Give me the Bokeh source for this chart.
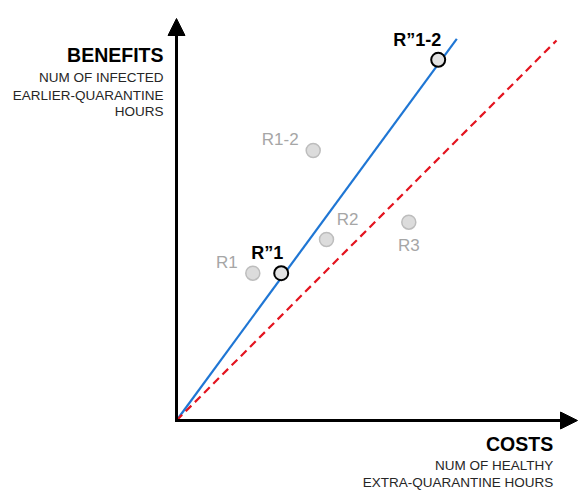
from bokeh.plotting import figure
from bokeh.models import Range1d, Arrow, NormalHead, Label, ColumnDataSource
from bokeh.core.properties import value
from bokeh.embed import file_html
from bokeh.resources import INLINE

# ---- data (costs = x, benefits = y; arbitrary units) ----
other_names = ["R1", "R1-2", "R2", "R3"]
other_costs = [7.63, 13.67, 15.0, 23.23]
other_benefits = [14.73, 27.0, 18.1, 19.83]

best_names = ["R\u201d1", "R\u201d1-2"]
best_costs = [10.47, 26.17]
best_benefits = [14.73, 36.07]

blue_line_x = [0.0, 28.03]
blue_line_y = [0.0, 38.17]
equal_line_x = [0.0, 38.0]
equal_line_y = [0.0, 38.0]

FONT = "Liberation Sans"

p = figure(width=578, height=491, output_backend="svg", toolbar_location=None,
           x_range=Range1d(-17.6, 40.2), y_range=Range1d(-7.1, 42.0),
           min_border=0, outline_line_color=None)
p.axis.visible = False
p.grid.visible = False

# reference lines
p.line(blue_line_x, blue_line_y, line_color="#1f76d4", line_width=2.2)
p.line(equal_line_x, equal_line_y, line_color="#e3141f", line_width=2.2, line_dash="8 5")

# axes arrows
p.add_layout(Arrow(end=NormalHead(size=17, fill_color="black", line_color="black", line_width=1),
                   x_start=-0.15, y_start=0, x_end=40.1, y_end=0,
                   line_color="black", line_width=3))
p.add_layout(Arrow(end=NormalHead(size=17, fill_color="black", line_color="black", line_width=1),
                   x_start=0, y_start=-0.15, x_end=0, y_end=40.2,
                   line_color="black", line_width=3))

# other points
src_o = ColumnDataSource(dict(x=other_costs, y=other_benefits, name=other_names,
                              dx=[-26, -33, 21, 0], dy=[-11, -11, -20, 23]))
p.scatter("x", "y", source=src_o, size=14, fill_color="#dcdcdc",
          line_color="#bdbdbd", line_width=1.5)
p.text("x", "y", text="name", source=src_o, x_offset="dx", y_offset="dy",
       text_align="center", text_baseline="middle", text_color="#a6a6a6",
       text_font=value(FONT), text_font_size="17px")

# best points
src_b = ColumnDataSource(dict(x=best_costs, y=best_benefits, name=best_names,
                              dx=[-14, -21], dy=[-20, -20]))
p.scatter("x", "y", source=src_b, size=14, fill_color="#e2e2e2",
          line_color="black", line_width=2)
p.text("x", "y", text="name", source=src_b, x_offset="dx", y_offset="dy",
       text_align="center", text_baseline="middle", text_color="black",
       text_font=value(FONT), text_font_size="18px", text_font_style="bold")

# axis titles
def lab(x, y, t, size, bold=False, color="#262626"):
    p.add_layout(Label(x=x, y=y, text=t, text_align="right", text_baseline="middle",
                       text_font=FONT, text_font_size=size,
                       text_font_style="bold" if bold else "normal", text_color=color))

lab(-1.3, 36.58, "BENEFITS", "19.5px", True, "black")
lab(-1.3, 34.33, "NUM OF INFECTED", "13.5px")
lab(-1.3, 32.53, "EARLIER-QUARANTINE", "13.5px")
lab(-1.3, 30.9, "HOURS", "13.5px")

lab(37.67, -2.3, "COSTS", "19.5px", True, "black")
lab(37.67, -4.53, "NUM OF HEALTHY", "13.5px")
lab(37.67, -6.23, "EXTRA-QUARANTINE HOURS", "13.5px")

open("out.html", "w").write(file_html(p, INLINE))
